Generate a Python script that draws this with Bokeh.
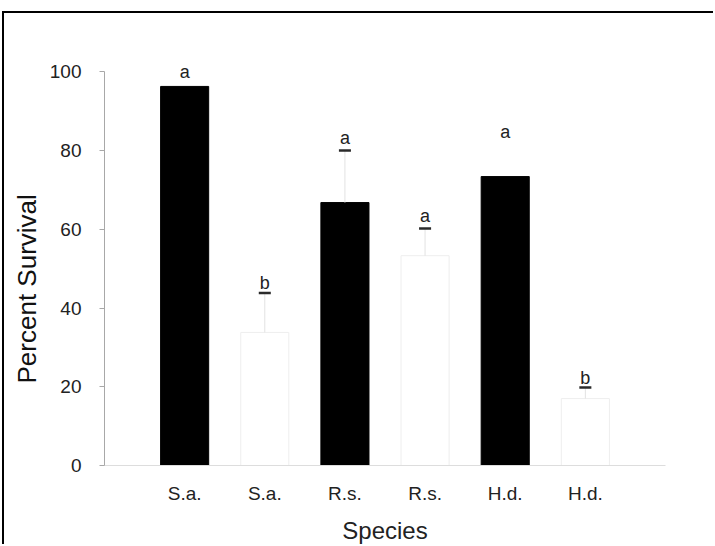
from bokeh.plotting import figure
from bokeh.models import ColumnDataSource, FixedTicker, Range1d, Title
from bokeh.core.properties import value
from bokeh.embed import file_html
from bokeh.resources import INLINE

# ---- data ----
species = ["S.a.", "S.a.", "R.s.", "R.s.", "H.d.", "H.d."]
survival = [96.3, 33.8, 66.8, 53.3, 73.4, 17.0]
errors = [0.0, 10.0, 13.2, 6.9, 0.0, 2.8]
letters = ["a", "b", "a", "a", "a", "b"]
letter_level = [100.0, 46.4, 83.2, 63.5, 84.8, 22.3]
y_ticks = [0, 20, 40, 60, 80, 100]

FONT = "Liberation Sans"
xs = list(range(1, len(species) + 1))
fills = ["#000000" if i % 2 == 0 else "#ffffff" for i in range(len(species))]
lines = ["#000000" if i % 2 == 0 else "#eeeeee" for i in range(len(species))]

p = figure(width=711, height=533, output_backend="svg", toolbar_location=None,
           x_range=Range1d(0, len(species) + 1), y_range=Range1d(0, 110),
           min_border_left=100, min_border_right=50, min_border_top=19,
           min_border_bottom=81)
p.styles = {"border-top": "2px solid #000", "border-left": "2px solid #000",
            "border-right": "none", "border-bottom": "none",
            "margin-left": "2px", "margin-top": "11px"}
p.outline_line_color = None
p.xgrid.visible = False
p.ygrid.visible = False

src = ColumnDataSource(dict(x=xs, top=survival, fill=fills, line=lines))
p.vbar(x="x", top="top", width=0.6, bottom=0, source=src,
       fill_color="fill", line_color="line", line_width=1)

# error bars (upper only)
ex = [x for x, e in zip(xs, errors) if e > 0]
elo = [t for t, e in zip(survival, errors) if e > 0]
ehi = [t + e for t, e in zip(survival, errors) if e > 0]
p.segment(x0=ex, y0=elo, x1=ex, y1=ehi, line_color="#e2e2e2", line_width=1)
cap = 0.075
p.segment(x0=[x - cap for x in ex], y0=ehi, x1=[x + cap for x in ex], y1=ehi,
          line_color="#2a2a2a", line_width=2.5)

# significance letters
p.text(x=xs, y=letter_level, text=letters, text_align="center",
       text_baseline="alphabetic", text_font=value(FONT),
       text_font_size="18px", text_color="#222222")

# axes
ya = p.yaxis[0]
ya.ticker = FixedTicker(ticks=y_ticks)
ya.bounds = (0, 100)
ya.axis_line_color = "#a8a8a8"
ya.major_tick_line_color = "#a8a8a8"
ya.major_tick_out = 5
ya.major_tick_in = 0
ya.minor_tick_line_color = None
ya.major_label_text_font = FONT
ya.major_label_text_font_size = "19px"
ya.major_label_text_color = "#222222"
ya.major_label_standoff = 18

ylab = Title(text="Percent Survival", align="left", offset=82, standoff=10,
             text_font=FONT, text_font_size="26px", text_font_style="normal",
             text_color="#111111")
p.add_layout(ylab, "left")

xa = p.xaxis[0]
xa.ticker = FixedTicker(ticks=xs)
xa.major_label_overrides = {x: s for x, s in zip(xs, species)}
xa.axis_line_color = "#dddddd"
xa.major_tick_line_color = None
xa.minor_tick_line_color = None
xa.major_label_text_font = FONT
xa.major_label_text_font_size = "19px"
xa.major_label_text_color = "#222222"
xa.major_label_standoff = 11
xa.axis_label = "Species"
xa.axis_label_text_font = FONT
xa.axis_label_text_font_size = "24px"
xa.axis_label_text_font_style = "normal"
xa.axis_label_text_color = "#222222"
xa.axis_label_standoff = 10

open("out.html", "w").write(file_html(p, INLINE))
